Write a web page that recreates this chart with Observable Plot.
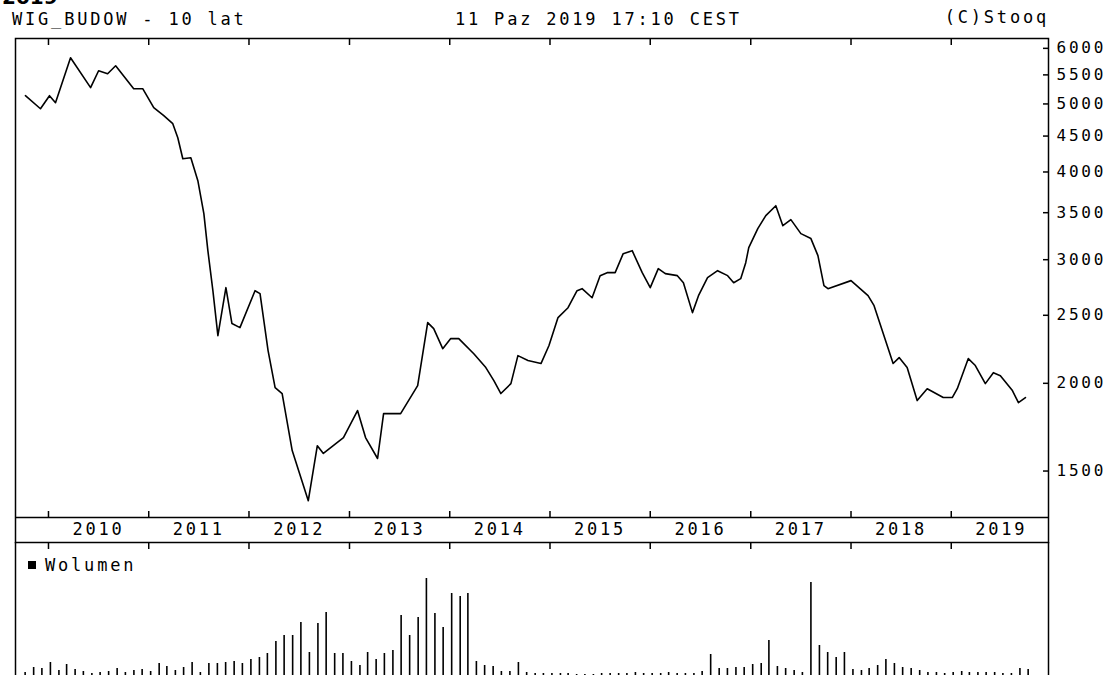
<!DOCTYPE html>
<html><head><meta charset="utf-8">
<script src="https://cdn.jsdelivr.net/npm/d3@7"></script>
<script src="https://cdn.jsdelivr.net/npm/@observablehq/plot@0.6"></script>
<style>
html,body{margin:0;padding:0;background:#fff;}
#wrap{position:relative;width:1109px;height:675px;overflow:hidden;background:#fff;font-family:"DejaVu Sans Mono",monospace;color:#000;}
.t{position:absolute;font-size:17px;letter-spacing:2.8px;white-space:pre;line-height:1;}
#wrap svg{position:absolute;left:0;}
#sq{position:absolute;left:28px;top:561px;width:8px;height:8px;background:#000;}
</style></head><body>
<div id="wrap">
<div class="t" style="left:2px;top:-13px;font-family:'DejaVu Sans';font-weight:bold;font-size:20px;letter-spacing:0;">2019</div>
<div class="t" style="left:12px;top:11px;">WIG_BUDOW - 10 lat</div>
<div class="t" style="left:455px;top:11px;">11 Paz 2019 17:10 CEST</div>
<div class="t" style="right:60px;top:9px;">(C)Stooq</div>
<div id="sq"></div>
<div class="t" style="left:45px;top:557px;">Wolumen</div>
</div>
<script>
// --- data: price line (decimal year, index value) ---
const priceTime = [2009.77, 2009.92, 2010.01, 2010.07, 2010.11, 2010.22, 2010.42, 2010.50, 2010.59, 2010.67, 2010.85, 2010.94, 2011.05, 2011.15, 2011.24, 2011.29, 2011.34, 2011.42, 2011.49, 2011.55, 2011.59, 2011.64, 2011.69, 2011.77, 2011.83, 2011.91, 2012.06, 2012.11, 2012.19, 2012.26, 2012.33, 2012.43, 2012.59, 2012.68, 2012.74, 2012.94, 2013.08, 2013.16, 2013.28, 2013.34, 2013.51, 2013.68, 2013.78, 2013.84, 2013.93, 2014.01, 2014.09, 2014.24, 2014.36, 2014.44, 2014.51, 2014.61, 2014.68, 2014.78, 2014.91, 2014.99, 2015.08, 2015.18, 2015.27, 2015.32, 2015.42, 2015.50, 2015.57, 2015.65, 2015.73, 2015.82, 2015.92, 2016.00, 2016.08, 2016.15, 2016.27, 2016.33, 2016.42, 2016.48, 2016.57, 2016.67, 2016.77, 2016.83, 2016.90, 2016.95, 2016.98, 2017.07, 2017.15, 2017.25, 2017.32, 2017.40, 2017.50, 2017.60, 2017.67, 2017.73, 2017.77, 2018.00, 2018.17, 2018.23, 2018.42, 2018.48, 2018.56, 2018.66, 2018.76, 2018.92, 2019.01, 2019.06, 2019.17, 2019.24, 2019.34, 2019.42, 2019.49, 2019.61, 2019.67, 2019.74];
const priceValue = [5137, 4922, 5137, 5021, 5222, 5818, 5274, 5575, 5521, 5667, 5256, 5256, 4939, 4811, 4686, 4476, 4178, 4192, 3887, 3489, 3090, 2710, 2339, 2737, 2433, 2401, 2710, 2684, 2227, 1972, 1934, 1604, 1361, 1630, 1589, 1674, 1829, 1674, 1563, 1811, 1811, 1985, 2441, 2393, 2241, 2316, 2316, 2204, 2106, 2018, 1934, 1998, 2190, 2155, 2134, 2264, 2481, 2563, 2710, 2728, 2648, 2847, 2875, 2875, 3060, 3090, 2875, 2737, 2913, 2866, 2847, 2782, 2522, 2666, 2828, 2894, 2847, 2782, 2819, 2971, 3121, 3321, 3466, 3581, 3354, 3421, 3268, 3215, 3040, 2755, 2728, 2801, 2666, 2580, 2134, 2176, 2106, 1890, 1965, 1909, 1909, 1965, 2169, 2120, 1998, 2071, 2051, 1953, 1877, 1909];

// --- data: monthly volume (relative units), Oct 2009 .. Oct 2019 ---
const volumeStart = "2009-10-08";
const volumeValues = [8, 13, 12, 18, 10, 16, 11, 9, 7, 8, 9, 12, 8, 10, 11, 9, 17, 14, 10, 13, 18, 8, 17, 17, 18, 19, 17, 21, 23, 27, 39, 45, 45, 58, 28, 57, 68, 27, 27, 19, 15,
  28, 21, 27, 30, 65, 45, 63, 102, 67, 53, 87, 84, 87, 19, 15, 14, 9, 9, 18, 8, 7, 7, 7, 7, 7, 6, 6, 6, 7, 7, 7, 7, 8, 7, 7, 7, 8, 7, 7, 7, 9, 26,
  12, 12, 13, 13, 16, 17, 40, 14, 12, 10, 8, 98, 35, 28, 23, 28, 11, 10, 12, 15, 21, 17, 13, 12, 10, 8, 8, 7, 8, 9, 8, 8, 8, 8, 7, 7, 12, 11];

// --- tick labels ---
const yTicks = [1500, 2000, 2500, 3000, 3500, 4000, 4500, 5000, 5500, 6000];
const years = [2010, 2011, 2012, 2013, 2014, 2015, 2016, 2017, 2018, 2019];

const decYear = t => { const y = Math.floor(t); const a = Date.UTC(y, 0, 1), b = Date.UTC(y + 1, 0, 1); return new Date(a + (t - y) * (b - a)); };
const xDomain = [decYear(2009.671), decYear(2019.970)];
const yearStarts = years.map(y => new Date(Date.UTC(y, 0, 1)));
const yearMids = years.map(y => new Date(Date.UTC(y, 6, 2)));
const priceData = priceTime.map((t, i) => ({date: decYear(t), value: priceValue[i]}));
const volData = volumeValues.map((v, i) => ({date: d3.utcMonth.offset(new Date(volumeStart), i), v}));

const style = {fontFamily: '"DejaVu Sans Mono", monospace', fontSize: "17px", letterSpacing: "2.8px", background: "transparent", color: "#000", overflow: "visible"};
const blank = () => "";

const main = Plot.plot({
  width: 1109, height: 546,
  marginTop: 38, marginBottom: 29, marginLeft: 15, marginRight: 61,
  style,
  x: {type: "utc", domain: xDomain},
  y: {type: "log", domain: [1288, 6197]},
  marks: [
    Plot.frame({insetBottom: -25, stroke: "#000", strokeWidth: 1.5}),
    Plot.ruleY([1288], {stroke: "#000", strokeWidth: 1.5}),
    Plot.axisY({anchor: "right", ticks: yTicks, tickSize: 6, dx: -6, tickFormat: blank, label: null, strokeWidth: 1.5}),
    Plot.axisY({anchor: "right", ticks: yTicks, tickSize: 0, tickPadding: 8, tickFormat: d => String(d), label: null, fontSize: 16}),
    Plot.axisX({anchor: "top", ticks: yearStarts, tickSize: 6, dy: 6, tickFormat: blank, label: null, strokeWidth: 1.5}),
    Plot.axisX({anchor: "bottom", ticks: yearStarts, tickSize: 6, dy: -6, tickFormat: blank, label: null, strokeWidth: 1.5}),
    Plot.axisX({anchor: "bottom", ticks: yearMids, tickSize: 0, tickPadding: 5, tickFormat: d => String(d.getUTCFullYear()), label: null}),
    Plot.line(priceData, {x: "date", y: "value", stroke: "#000", strokeWidth: 1.6})
  ]
});
main.style.top = "0px";

const vol = Plot.plot({
  width: 1109, height: 138,
  marginTop: 0, marginBottom: 0, marginLeft: 15, marginRight: 61,
  style,
  x: {type: "utc", domain: xDomain},
  y: {domain: [0, 138], axis: null},
  marks: [
    Plot.ruleX(xDomain, {stroke: "#000", strokeWidth: 1.5}),
    Plot.axisX({anchor: "top", ticks: yearStarts, tickSize: 6, dy: 6, tickFormat: blank, label: null, strokeWidth: 1.5}),
    Plot.ruleX(volData, {x: "date", y1: 0, y2: "v", stroke: "#000", strokeWidth: 1.6})
  ]
});
vol.style.top = "542px";

const wrap = document.getElementById("wrap");
wrap.insertBefore(vol, wrap.firstChild);
wrap.insertBefore(main, wrap.firstChild);
</script></body></html>
